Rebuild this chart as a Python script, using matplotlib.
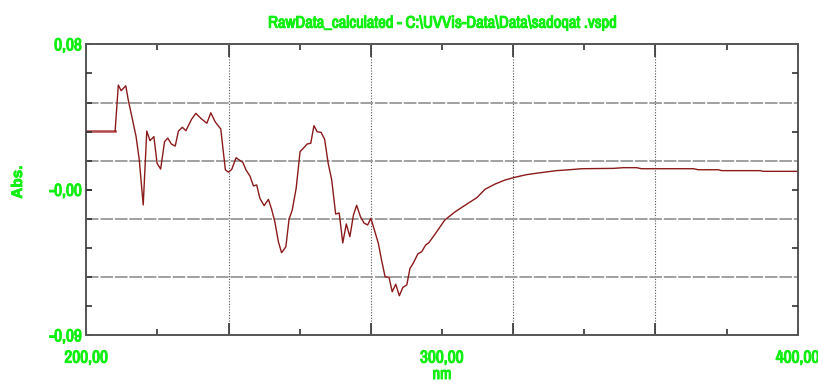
import numpy as np
import matplotlib.pyplot as plt
import matplotlib.patheffects as pe

# wavelength (nm) and absorbance
nm = [200.0, 208.1, 209.0, 209.8, 211.1, 211.8, 213.0, 214.0, 214.9, 216.0,
      217.0, 217.9, 219.0, 219.9, 220.9, 222.0, 222.9, 223.9, 225.0, 225.9,
      227.0, 228.0, 229.6, 230.8, 232.2, 233.9, 235.0, 236.2, 237.8, 239.1,
      240.0, 240.9, 242.1, 243.0, 244.0, 244.9, 246.0, 247.0, 247.9, 248.8,
      250.0, 251.2, 252.1, 253.0, 254.0, 254.9, 256.1, 257.0, 257.9, 259.0,
      260.1, 261.0, 262.1, 263.1, 264.0, 264.9, 266.0, 267.0, 268.0, 269.0,
      270.1, 271.1, 272.1, 273.1, 274.1, 275.1, 276.0, 277.1, 278.1, 279.1,
      280.0, 281.0, 282.1, 283.0, 284.0, 285.1, 286.0, 287.0, 288.0, 289.0,
      290.1, 291.0, 291.9, 293.2, 294.3, 295.4, 296.3, 298.5, 300.8, 303.7,
      306.9, 309.8, 312.1, 314.9, 317.7, 320.5, 323.8, 327.6, 332.2, 335.1,
      339.3, 348.2, 351.0, 354.7, 356.1, 370.7, 372.1, 377.7, 378.6, 389.4,
      390.3, 400.0]
absorb = [0.0302, 0.0302, 0.0566, 0.0534, 0.0562, 0.0480, 0.0366, 0.0270, 0.0136, -0.0122,
          0.0302, 0.0247, 0.0270, 0.0117, 0.0084, 0.0241, 0.0262, 0.0228, 0.0216, 0.0302,
          0.0324, 0.0304, 0.0370, 0.0404, 0.0375, 0.0347, 0.0407, 0.0356, 0.0314, 0.0079,
          0.0066, 0.0083, 0.0149, 0.0136, 0.0123, 0.0079, 0.0044, -0.0013, -0.0007, -0.0084,
          -0.0126, -0.0090, -0.0147, -0.0218, -0.0333, -0.0396, -0.0362, -0.0204, -0.0151, -0.0026,
          0.0184, 0.0203, 0.0228, 0.0232, 0.0333, 0.0298, 0.0295, 0.0255, 0.0117, 0.0021,
          -0.0174, -0.0168, -0.0340, -0.0231, -0.0304, -0.0180, -0.0124, -0.0191, -0.0226, -0.0237,
          -0.0199, -0.0266, -0.0342, -0.0438, -0.0534, -0.0537, -0.0620, -0.0577, -0.0643, -0.0595,
          -0.0581, -0.0486, -0.0457, -0.0403, -0.0390, -0.0352, -0.0339, -0.0276, -0.0208, -0.0161,
          -0.0118, -0.0080, -0.0032, -0.0002, 0.0021, 0.0037, 0.0052, 0.0063, 0.0075, 0.0079,
          0.0086, 0.0088, 0.0092, 0.0092, 0.0086, 0.0086, 0.0080, 0.0080, 0.0075, 0.0075,
          0.0071, 0.0071]

x_lim = [200, 400]
y_lim = [-0.087, 0.08]
x_grid = [240, 280, 320, 360]
x_minor = [200, 220, 260, 300, 340, 380, 400]
x_minor_labels = ['200,00', '', '', '300,00', '', '', '400,00']
y_labels = ['-0,09', '-0,00', '0,08']

green = '#11ee11'
# narrow face like the instrument software; first one installed wins
font = ['Arial Narrow', 'Liberation Sans Narrow', 'Archivo Narrow', 'Roboto Condensed',
        'PT Sans Narrow', 'Liberation Sans']
# the narrow face has no bold file here, so thicken it with a stroke
bold = [pe.withStroke(linewidth=0.8, foreground=green)]

fig = plt.figure(figsize=(8.18, 3.85), dpi=100)
ax = fig.add_axes([0.1055, 0.1291, 0.8697, 0.7558])

# flat lead-in drawn a bit heavier, like the instrument output
ax.plot(nm[:2], absorb[:2], color='#b04848', linewidth=1.8)
ax.plot(nm[1:], absorb[1:], color='#8b1a1a', linewidth=1.0)

ax.set_xlim(x_lim)
ax.set_ylim(y_lim)

# y: 10 tick steps, grid every second one, labels at bottom/middle/top
y_steps = np.linspace(y_lim[0], y_lim[1], 11)
ax.set_yticks(y_steps[2:9:2])
ax.set_yticklabels([])
ax.set_yticks(y_steps[::5], minor=True)
ax.set_yticklabels(y_labels, minor=True)

ax.set_xticks(x_grid)
ax.set_xticklabels([])
ax.set_xticks(x_minor, minor=True)
ax.set_xticklabels(x_minor_labels, minor=True)

ax.tick_params(which='both', direction='in', top=True, right=True,
               color='#333333', width=1.2)
ax.tick_params(axis='x', which='major', length=9)
ax.tick_params(axis='x', which='minor', length=4, pad=11)
ax.tick_params(axis='y', which='both', length=4, pad=3)

for lab in ax.get_xticklabels(minor=True) + ax.get_yticklabels(minor=True):
    lab.set_color(green)
    lab.set_fontweight('bold')
    lab.set_fontsize(12.5)
    lab.set_family(font)
    lab.set_path_effects(bold)

# extra short y ticks between the labelled ones
ax2 = ax.twinx()
ax2.set_ylim(y_lim)
ax2.set_yticks(y_steps[1::2])
ax2.set_yticklabels([])
ax2.tick_params(axis='y', direction='in', length=4, left=True, right=True,
                color='#333333', width=1.2)

ax.grid(axis='y', which='major', color='#999999', linewidth=1.3, linestyle=(0, (7, 1)))
ax.grid(axis='x', which='major', color='#555555', linewidth=0.8, linestyle=(0, (1, 1.5)))

for s in ax.spines.values():
    s.set_color('#555555')
    s.set_linewidth(1.4)
for s in ax2.spines.values():
    s.set_visible(False)

ax.set_title('RawData_calculated - C:\\UVVis-Data\\Data\\sadoqat .vspd',
             color=green, fontweight='bold', fontsize=12, family=font, pad=12,
             path_effects=bold)
ax.set_xlabel('nm', color=green, fontweight='bold', fontsize=12, family=font,
              labelpad=1, path_effects=bold)
fig.text(0.022, 0.527, 'Abs.', rotation=90, color=green, fontweight='bold',
         fontsize=11, ha='center', va='center', family=['Liberation Sans'],
         path_effects=[pe.withStroke(linewidth=0.6, foreground=green)])

fig.savefig('out.png', dpi=100)
